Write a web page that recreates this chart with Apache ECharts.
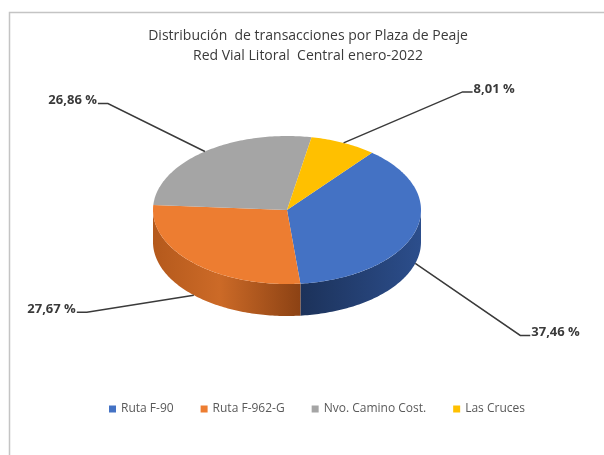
<!DOCTYPE html>
<html>
<head>
<meta charset="utf-8">
<script src="https://cdn.jsdelivr.net/npm/echarts@6/dist/echarts.min.js"></script>
<style>
  html, body { margin: 0; padding: 0; background: #fff; }
  #chart { width: 604px; height: 455px; }
</style>
</head>
<body>
<div id="chart"></div>
<script>
// datos: participación por plaza de peaje (%)
const plazas = ['Ruta F-90', 'Ruta F-962-G', 'Nvo. Camino Cost.', 'Las Cruces'];
const shares = [37.46, 27.67, 26.86, 8.01];

// estilos
const topColors = ['#4472C4', '#ED7D31', '#A5A5A5', '#FFC000'];
const sideStops = [
  [[0, '#1C325A'], [1, '#2C4E8C']],
  [[0, '#B4591C'], [0.45, '#CC6A27'], [1, '#8C4214']],
  [[0, '#7C7C7C'], [1, '#8C8C8C']],
  [[0, '#BF9000'], [1, '#D9A300']]
];
// desplazamiento etiqueta respecto al punto de anclaje
const labelOffsets = [[105, 72], [-107, 17], [-97, -48], [119, -51]];

const CX = 287, CY = 210, RX = 134, RY = 74, DEPTH = 32, START = 39.4, HOOK = 10;

function pt(deg, dy) {
  const r = deg * Math.PI / 180;
  return [CX + RX * Math.sin(r), CY - RY * Math.cos(r) + (dy || 0)];
}

function arc(a, b, dy) {
  const pts = [];
  const n = Math.max(2, Math.ceil(Math.abs(b - a)));
  for (let k = 0; k <= n; k++) pts.push(pt(a + (b - a) * k / n, dy));
  return pts;
}

function renderSlice(i) {
  return function (params, api) {
    const total = shares.reduce((s, v) => s + v, 0);
    let before = 0;
    for (let k = 0; k < i; k++) before += shares[k];
    const a0 = START + before / total * 360;
    const a1 = a0 + api.value(0) / total * 360;
    const children = [];

    // pared lateral (solo mitad frontal)
    [0, 360].forEach(function (off) {
      const s = Math.max(a0, 90 + off), e = Math.min(a1, 270 + off);
      if (e > s) {
        children.push({
          type: 'polygon',
          z2: 1,
          shape: { points: arc(s, e, 0).concat(arc(e, s, DEPTH)) },
          style: { fill: new echarts.graphic.LinearGradient(0, 0, 1, 0,
            sideStops[i].map(function (st) { return { offset: st[0], color: st[1] }; })) }
        });
      }
    });

    // cara superior
    children.push({
      type: 'polygon',
      z2: 5,
      shape: { points: [[CX, CY]].concat(arc(a0, a1, 0)) },
      style: { fill: topColors[i] }
    });

    // etiqueta con línea guía
    const mid = (a0 + a1) / 2;
    const front = Math.cos(mid * Math.PI / 180) < 0;
    const anchor = pt(mid, front ? DEPTH : 0);
    const off = labelOffsets[i];
    const elbow = [anchor[0] + off[0], anchor[1] + off[1]];
    const dir = off[0] >= 0 ? 1 : -1;
    const end = [elbow[0] + dir * HOOK, elbow[1]];
    children.push({
      type: 'polyline',
      z2: 10,
      shape: { points: [anchor, elbow, end] },
      style: { stroke: '#3A3A3A', lineWidth: 1.5, fill: null }
    });
    children.push({
      type: 'text',
      z2: 10,
      style: {
        x: end[0] + dir * 1,
        y: end[1] - 3,
        text: api.value(0).toFixed(2).replace('.', ',') + ' %',
        align: dir > 0 ? 'left' : 'right',
        verticalAlign: 'middle',
        fill: '#3A3A3A',
        font: 'bold 13px "Open Sans"'
      }
    });
    return { type: 'group', children: children };
  };
}

const chart = echarts.init(document.getElementById('chart'));
chart.setOption({
  animation: false,
  color: topColors,
  legend: {
    data: plazas,
    top: 398,
    left: 104,
    icon: 'rect',
    itemWidth: 7,
    itemHeight: 7,
    itemGap: 27,
    textStyle: { fontFamily: 'Open Sans', fontSize: 12, color: '#595959' }
  },
  graphic: [{
    type: 'rect',
    shape: { x: 9.5, y: 12.5, width: 620, height: 480 },
    style: { fill: null, stroke: '#C4C4C4', lineWidth: 1.5 }
  }, {
    type: 'text',
    x: 308,
    y: 26,
    style: {
      text: 'Distribución  de transacciones por Plaza de Peaje\nRed Vial Litoral  Central enero-2022',
      align: 'center',
      font: '14px "Open Sans"',
      lineHeight: 20,
      fill: '#3A3A3A'
    }
  }],
  series: plazas.map(function (name, i) {
    return {
      type: 'custom',
      name: name,
      coordinateSystem: 'none',
      renderItem: renderSlice(i),
      data: [shares[i]]
    };
  })
});
</script>
</body>
</html>
